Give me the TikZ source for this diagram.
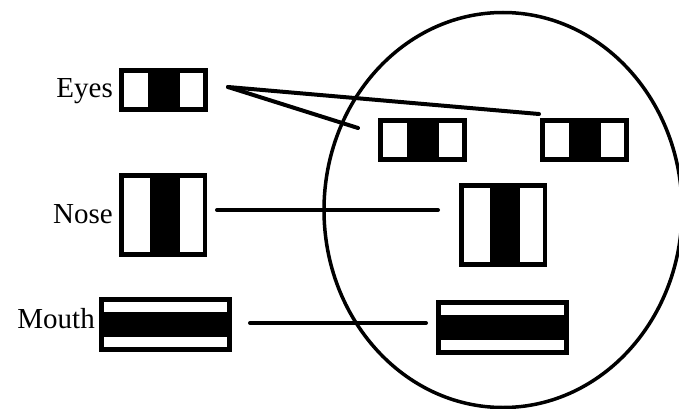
\documentclass[tikz,border=0pt]{standalone}
\usepackage{fontspec}
\setmainfont{Liberation Serif}
\usetikzlibrary{positioning}
\tikzset{
  part/.style={fill=black,inner sep=0pt,outer sep=0pt,anchor=north west},
  eyepart/.style={part,minimum width=89pt,minimum height=44pt},
  nosepart/.style={part,minimum width=88pt,minimum height=84pt},
  mouthpart/.style={part,minimum width=133pt,minimum height=55pt},
  tag/.style={inner sep=0pt,anchor=base east,font=\fontsize{29}{32}\selectfont},
  link/.style={line width=4pt,line cap=round}
}
\begin{document}
\begin{tikzpicture}[x=1pt,y=-1pt]
    \useasboundingbox (0,0) rectangle (679,409);
    % the face
    \draw[line width=3.5pt] (503,210) ellipse (179 and 197.5);
    % key on the left
    \node[eyepart] (eyeKey) at (119,68) {};
    \node[nosepart] (noseKey) at (119,173) {};
    \node[mouthpart] (mouthKey) at (99,297) {};
    \node[tag] (eyeText) at (113,98) {Eyes};
    \node[tag] (noseText) at (113,223) {Nose};
    \node[tag] (mouthText) at (95,328) {Mouth};
    % parts inside the face
    \node[eyepart] (eyeL) at (378,118) {};
    \node[eyepart] (eyeR) at (540,118) {};
    \node[nosepart] (nose) at (459,183) {};
    \node[mouthpart] (mouth) at (436,300) {};
    % white windows
    \foreach \n in {eyeKey,eyeL,eyeR} {
        \fill[white] ([shift={(5,5)}]\n.north west) rectangle ([shift={(29,39)}]\n.north west);
        \fill[white] ([shift={(61,5)}]\n.north west) rectangle ([shift={(84,39)}]\n.north west);
    }
    \foreach \n in {noseKey,nose} {
        \fill[white] ([shift={(5,5)}]\n.north west) rectangle ([shift={(31,79)}]\n.north west);
        \fill[white] ([shift={(61,5)}]\n.north west) rectangle ([shift={(84,79)}]\n.north west);
    }
    \foreach \n in {mouthKey,mouth} {
        \fill[white] ([shift={(5,5)}]\n.north west) rectangle ([shift={(128,15)}]\n.north west);
        \fill[white] ([shift={(5,40)}]\n.north west) rectangle ([shift={(128,50)}]\n.north west);
    }
    % connectors
    \coordinate (eyeStart) at ([shift={(20,-3)}]eyeKey.east);
    \coordinate (eyeEndL) at ([shift={(-20,10)}]eyeL.north west);
    \coordinate (eyeEndR) at ([shift={(-1,-4)}]eyeR.north west);
    \coordinate (noseStart) at ([shift={(10,-5)}]noseKey.east);
    \coordinate (mouthStart) at ([shift={(18,-1.5)}]mouthKey.east);
    \draw[link] (eyeStart) -- (eyeEndL);
    \draw[link] (eyeStart) -- (eyeEndR);
    \draw[link] (noseStart) -- ([xshift=-21pt]noseStart -| nose.west);
    \draw[link] (mouthStart) -- ([xshift=-10pt]mouthStart -| mouth.west);
\end{tikzpicture}
\end{document}
